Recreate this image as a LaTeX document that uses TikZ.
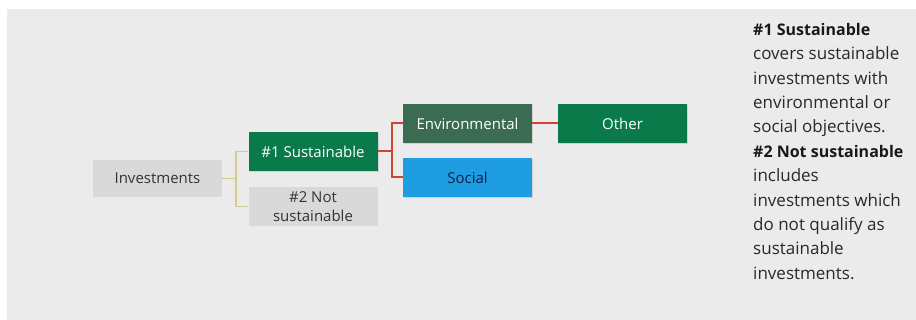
\documentclass[tikz,border=0pt]{standalone}
\usepackage{fontspec}
\setmainfont{Open Sans}
\usetikzlibrary{shadows}

\definecolor{bggray}{HTML}{EBEBEB}
\definecolor{boxgray}{HTML}{D9D9D9}
\definecolor{susgreen}{HTML}{0B7A4B}
\definecolor{envgreen}{HTML}{3B6B50}
\definecolor{socblue}{HTML}{1E9DE3}
\definecolor{linkolive}{HTML}{D2CD8E}
\definecolor{linkred}{HTML}{D0452E}
\definecolor{txtgray}{HTML}{333333}
\definecolor{navy}{HTML}{10243F}

\tikzset{
  box/.style={minimum width=129pt, minimum height=39pt, inner sep=0pt,
    align=center, font=\fontsize{15}{17}\selectfont},
  greybox/.style={box, fill=boxgray, text=txtgray},
  colbox/.style={box, drop shadow={opacity=0.25, shadow xshift=1pt, shadow yshift=-1.5pt}},
  oliveline/.style={linkolive, line width=1.8pt},
  redline/.style={linkred, line width=2pt}
}

\begin{document}
\begin{tikzpicture}[x=1pt,y=-1pt]

  \useasboundingbox (0,0) rectangle (916,320);
  \fill[bggray] (7,9) rectangle (916,320);

  % tree
  \node[greybox, minimum height=37pt] (inv) at (157.5,178.5) {Investments};
  \node[colbox, fill=susgreen, text=white] (sus) at (313,151.5) {\#1 Sustainable};
  \node[greybox, font=\fontsize{15}{19}\selectfont] (notsus) at (313,206.5) {\#2 Not\\sustainable};
  \node[colbox, fill=envgreen, text=white] (env) at (467.5,123.5) {Environmental};
  \node[colbox, fill=socblue, text=navy] (soc) at (467.5,177.5) {Social};
  \node[colbox, fill=susgreen, text=white] (oth) at (622.5,123.5) {Other};

  \draw[oliveline] (inv.east) -- ++(14,0) |- (sus.west);
  \draw[oliveline] (inv.east) -- ++(14,0) |- (notsus.west);

  \draw[redline] (sus.east) -- ++(14,0) |- (env.west);
  \draw[redline] (sus.east) -- ++(14,0) |- (soc.west);
  \draw[redline] (env.east) -- (oth.west);

  % legend text
  \node[anchor=north west, align=left, inner sep=0pt, text=txtgray!80!black,
        font=\fontsize{17}{24.4}\selectfont] (note) at (753,23)
    {{\fontsize{16}{24.4}\selectfont\bfseries\color{black!90}\#1 Sustainable}\\
     covers sustainable\\
     investments with\\
     environmental or\\
     social objectives.\\
     {\fontsize{16}{24.4}\selectfont\bfseries\color{black!90}\#2 Not sustainable}\\
     includes\\
     investments which\\
     do not qualify as\\
     sustainable\\
     investments.};

\end{tikzpicture}
\end{document}
